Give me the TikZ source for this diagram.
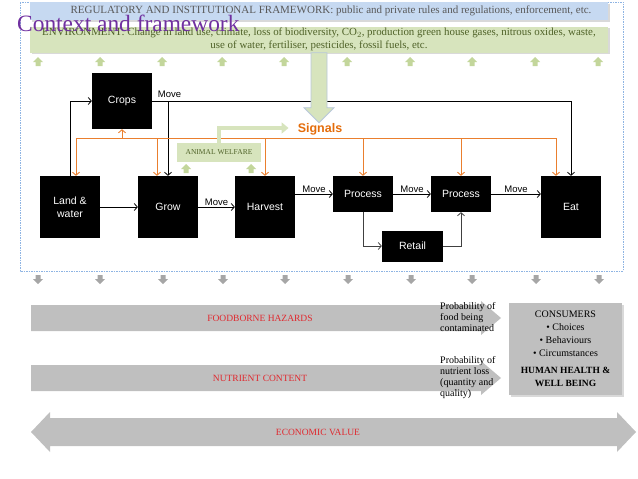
\documentclass[tikz,border=0pt]{standalone}
\usepackage{fontspec}
\setmainfont{Liberation Serif}
\setsansfont{Liberation Sans}
\usetikzlibrary{positioning, arrows.meta, calc, shadows}

\definecolor{regblue}{HTML}{C6D9F1}
\definecolor{envgreen}{HTML}{D7E4BD}
\definecolor{envtext}{HTML}{4F6228}
\definecolor{upgreen}{HTML}{C3D69B}
\definecolor{sigorange}{HTML}{E46C0A}
\definecolor{sigline}{HTML}{EA7F2E}
\definecolor{bandgray}{HTML}{BFBFBF}
\definecolor{downgray}{HTML}{A6A6A6}
\definecolor{ctxpurple}{HTML}{7030A0}
\definecolor{hazred}{HTML}{E0282E}
\definecolor{framebl}{HTML}{8EB4E3}

\begin{document}
\begin{tikzpicture}[
  x=1pt, y=-1pt, font=\sffamily,
  stage/.style={fill=black, text=white, font=\sffamily\fontsize{10.5}{13}\selectfont, align=center,
    inner sep=0pt, minimum width=60pt},
  flow/.style={-{Straight Barb[length=3pt,width=7pt]}, line width=0.8pt, draw=black},
  sig/.style={-{Straight Barb[length=3pt,width=7pt]}, line width=0.9pt, draw=sigline},
  mv/.style={font=\sffamily\fontsize{9.5}{10}\selectfont, inner sep=1.5pt},
  shade/.style={drop shadow={shadow xshift=1.5pt, shadow yshift=-1.5pt, opacity=0.3}},
  bandtxt/.style={font=\rmfamily\fontsize{9.5}{10}\selectfont, text=hazred},
  prob/.style={font=\rmfamily\fontsize{10}{11}\selectfont, align=left, anchor=north west, inner sep=0pt}
]
\useasboundingbox (0,0) rectangle (638,479);

% --- dashed frame round the whole context ---
\draw[framebl, line width=0.5pt, dash pattern=on 1.5pt off 1pt] (20,2) rectangle (623,271);

% --- the two framework bands at the top ---
\node[shade, fill=regblue, minimum width=578pt, minimum height=18pt, inner sep=0pt,
  font=\rmfamily\fontsize{11}{12}\selectfont, text=black!65] (reg) at (319,11)
  {\hspace*{24pt}REGULATORY AND INSTITUTIONAL FRAMEWORK: public and private rules and regulations, enforcement, etc.};
\node[shade, fill=envgreen, minimum width=578pt, minimum height=26pt, inner sep=0pt, align=center,
  font=\rmfamily\fontsize{10.9}{13}\selectfont, text=envtext] (env) at (319,39.5)
  {ENVIRONMENT: Change in land use, climate, loss of biodiversity, CO$_2$, production green house gases, nitrous oxides, waste,\\
   use of water, fertiliser, pesticides, fossil fuels, etc.};

\node[anchor=base west, inner sep=0pt, font=\rmfamily\fontsize{23.4}{25}\selectfont, text=ctxpurple] (ctx)
  at (17,31.5) {Context and framework};

% small up arrows under the environment band
\foreach \x in {38,100,162,222,284,347,410,472,535,598}
  \fill[upgreen] (\x,57) -- ++(5,5) -- ++(-2.5,0) -- ++(0,4) -- ++(-5,0) -- ++(0,-4) -- ++(-2.5,0) -- cycle;

% --- the food chain stages ---
\node[stage, minimum height=56pt] (crops)   at (122,101)   {Crops};
\node[stage, minimum height=62pt] (land)    at (70,207)    {Land \&\\water};
\node[stage, minimum height=62pt] (grow)    at (168,207)   {Grow};
\node[stage, minimum height=62pt] (harvest) at (265,207)   {Harvest};
\node[stage, minimum height=36pt] (proc1)   at (363,194)   {Process};
\node[stage, minimum height=36pt] (proc2)   at (461,194)   {Process};
\node[stage, minimum height=62pt] (eat)     at (571,207)   {Eat};
\node[stage, minimum height=31pt, minimum width=61pt] (retail) at (412.5,246) {Retail};

% moves between the stages
\draw[flow] (land.north) |- (crops.west);
\draw[flow] (crops.east) -| (eat.north);
\draw[flow] (crops.east -| grow.north) -- (grow.north);
\node[mv, anchor=south west] (mv0) at ($(crops.east)+(4,-2)$) {Move};
\draw[flow] (land.east) -- (grow.west);
\draw[flow] (grow.east) -- node[mv, above] (mv1) {Move} (harvest.west);
\draw[flow] (harvest.east |- proc1.west) -- node[mv, above] (mv2) {Move} (proc1.west);
\draw[flow] (proc1.east) -- node[mv, above] (mv3) {Move} (proc2.west);
\draw[flow] (proc2.east) -- node[mv, above] (mv4) {Move} (proc2.east -| eat.west);
\draw[flow, draw=black!75] (proc1.south) |- (retail.west);
\draw[flow, draw=black!75] (retail.east) -| (proc2.south);

% --- signals bus ---
\node[font=\sffamily\bfseries\fontsize{12.5}{14}\selectfont, text=sigorange, inner sep=1pt] (signals) at (320,129) {Signals};
\coordinate (busW) at (76,138);
\coordinate (busE) at (556,138);
\draw[sigline, line width=0.9pt] (busW) -- (busE);
\draw[sig] (busW) -- (land.north -| busW);
\draw[sig] (crops.south |- busW) -- (crops.south);
\coordinate (growSig) at ($(grow.north)+(-11,0)$);
\draw[sig] (growSig |- busW) -- (growSig);
\foreach \n in {harvest, proc1, proc2}
  \draw[sig] (\n.north |- busW) -- (\n.north);
\draw[sig] (busE) -- (eat.north -| busE);

% animal welfare feeding the signals
\node[fill=envgreen, minimum width=84pt, minimum height=19pt, inner sep=0pt,
  font=\rmfamily\fontsize{7.5}{8}\selectfont, text=envtext] (welfare) at (219,152.5) {ANIMAL WELFARE};
\draw[envgreen, line width=4pt, -{Triangle[width=11pt,length=7pt]}]
  (welfare.north) |- ($(signals.west)+(-8,-1)$);
\foreach \x in {186,251}
  \fill[upgreen] (\x,164) -- ++(5,5) -- ++(-2.5,0) -- ++(0,4) -- ++(-5,0) -- ++(0,-4) -- ++(-2.5,0) -- cycle;

% big arrow from the framework down to the signals
\filldraw[fill=envgreen, draw=regblue!80!gray, line width=0.8pt]
  (env.south) ++(-8,0) -- ++(16,0) -- ++(0,55) -- ++(7,0) -- ++(-15,15) -- ++(-15,-15) -- ++(7,0) -- cycle;

% gray down arrows under the frame
\foreach \x in {38,100,163,223,285,348,411,472,536,599}
  \fill[downgray] (\x,284) -- ++(5,-5) -- ++(-2.5,0) -- ++(0,-4) -- ++(-5,0) -- ++(0,4) -- ++(-2.5,0) -- cycle;

% --- outcome bands ---
\fill[bandgray] (31,305) -- (481,305) -- (481,301) -- (501,318) -- (481,335) -- (481,331) -- (31,331) -- cycle;
\node[bandtxt] (food) at (260,318) {FOODBORNE HAZARDS};
\fill[bandgray] (31,365) -- (481,365) -- (481,361) -- (501,378) -- (481,395) -- (481,391) -- (31,391) -- cycle;
\node[bandtxt] (nutr) at (260,378) {NUTRIENT CONTENT};
\fill[bandgray] (31,432) -- (50,412) -- (50,418) -- (617,418) -- (617,412) -- (636,432)
  -- (617,452) -- (617,446) -- (50,446) -- (50,452) -- cycle;
\node[bandtxt] (econ) at (318,432) {ECONOMIC VALUE};

\node[prob] (pfood) at (440,302) {Probability of\\food being\\contaminated};
\node[prob] (pnutr) at (440,356) {Probability of\\nutrient loss\\(quantity and\\quality)};

% consumers box
\node[shade, fill=bandgray, minimum width=113pt, minimum height=92pt, inner sep=0pt, align=center,
  font=\rmfamily\fontsize{10}{12.8}\selectfont] (cons) at (565.5,349)
  {CONSUMERS\\\textbullet\ Choices\\\textbullet\ Behaviours\\\textbullet\ Circumstances\\[5pt]
   {\fontsize{9.5}{12.8}\selectfont\textbf{HUMAN HEALTH \&}}\\{\fontsize{9.5}{12.8}\selectfont\textbf{WELL BEING}}};

\end{tikzpicture}
\end{document}
